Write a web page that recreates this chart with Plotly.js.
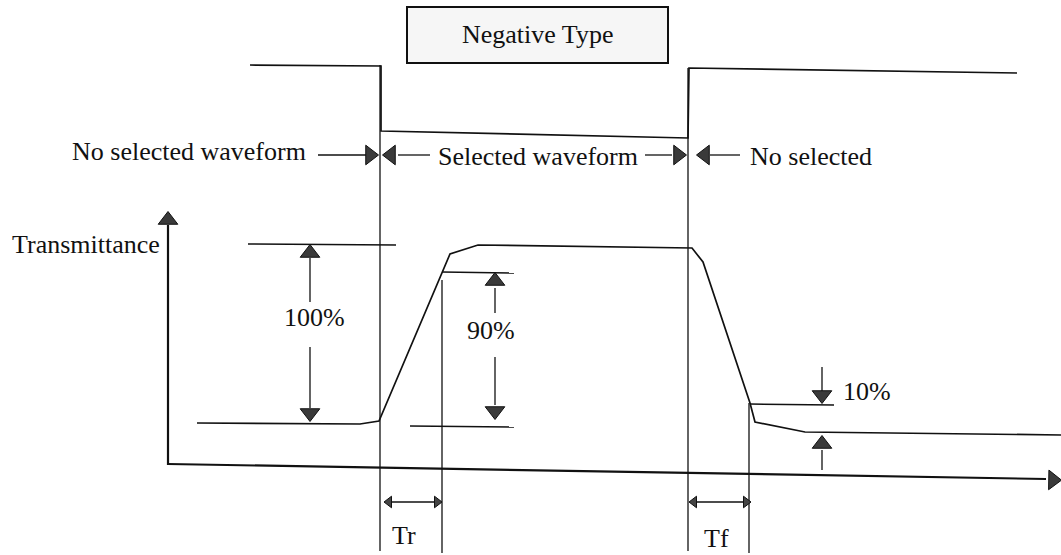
<!DOCTYPE html>
<html>
<head>
<meta charset="utf-8">
<script src="https://cdn.plot.ly/plotly-3.0.1.min.js"></script>
<style>html,body{margin:0;padding:0;background:#fff;}#chart{width:1061px;height:555px;}</style>
</head>
<body>
<div id="chart"></div>
<script>
// Drive waveform (top) and optical response (bottom), in diagram units
const driveX = [250, 381, 381, 688, 689, 1017];
const driveY = [65, 66, 131, 138, 68, 73];
const responseX = [197, 360, 379, 450, 478, 692, 703, 750, 755, 805, 1061];
const responseY = [423, 424, 421, 254, 245, 248, 262, 403, 422, 432, 435];

// Timing marker lines (vertical)
const markerX = [380, 380, null, 688, 688, null, 442, 442, null, 749, 749];
const markerY = [65, 551, null, 68, 551, null, 280, 553, null, 403, 553];

// Level reference lines (horizontal)
const refX = [248, 396, null, 442, 514, null, 410, 514, null, 750, 834];
const refY = [244, 245, null, 272, 273, null, 426, 427, null, 404, 405];

// Axes
const axisX = [168, 168, null, 168, 1046];
const axisY = [225, 465, null, 464, 479];

// Dimension arrow shafts
const shaftX = [310, 310, null, 310, 310, null, 495, 495, null, 495, 495, null, 822, 822, null, 822, 822,
                null, 318, 366, null, 398, 430, null, 645, 672, null, 710, 740, null, 386, 440, null, 691, 749];
const shaftY = [258, 302, null, 347, 408, null, 288, 313, null, 357, 405, null, 367, 392, null, 450, 470,
                null, 155, 155, null, 155, 155, null, 155, 155, null, 155, 155, null, 502, 502, null, 502, 502];

// Arrow heads
const headX = [310, 310, 495, 495, 822, 822, 168, 1053, 370, 391, 678, 705];
const headY = [253, 413, 281, 411, 395, 444, 220, 480, 155, 155, 155, 155];
const headSym = ['triangle-up','triangle-down','triangle-up','triangle-down','triangle-down','triangle-up',
                 'triangle-up','triangle-right','triangle-right','triangle-left','triangle-right','triangle-left'];
const headAngle = [0,0,0,0,0,0,0,1,0,0,0,0];
const smallHeadX = [389, 437, 694, 746];
const smallHeadY = [502, 502, 502, 502];
const smallHeadSym = ['triangle-left','triangle-right','triangle-left','triangle-right'];

// Labels
const labelText = ['No selected waveform', 'Selected waveform', 'No selected', 'Transmittance',
                   '100%', '90%', '10%', 'Tr', 'Tf'];
const labelX = [308, 538, 748, 10, 314, 491, 841, 404, 716];
const labelY = [151, 156, 156, 244, 317, 330, 391, 535, 538];
const labelAnchor = ['right','center','left','left','center','center','left','center','center'];
const titleText = 'Negative Type';

const ink = '#111';
const traces = [
  {x: driveX, y: driveY, mode: 'lines', line: {color: ink, width: 1.7}},
  {x: responseX, y: responseY, mode: 'lines', line: {color: ink, width: 1.7}},
  {x: markerX, y: markerY, mode: 'lines', line: {color: ink, width: 1.3}},
  {x: refX, y: refY, mode: 'lines', line: {color: ink, width: 1.5}},
  {x: axisX, y: axisY, mode: 'lines', line: {color: ink, width: 2.2}},
  {x: shaftX, y: shaftY, mode: 'lines', line: {color: ink, width: 1.3}},
  {x: headX, y: headY, mode: 'markers',
   marker: {symbol: headSym, angle: headAngle, size: 17, color: '#3a3a3a', line: {color: ink, width: 1}}},
  {x: smallHeadX, y: smallHeadY, mode: 'markers',
   marker: {symbol: smallHeadSym, size: 10, color: '#444', line: {color: ink, width: 1}}}
];

const font = {family: '"Liberation Serif", "Times New Roman", serif', size: 26, color: ink};
const annotations = labelText.map((t, i) => ({
  x: labelX[i], y: labelY[i], xref: 'x', yref: 'y', text: t, showarrow: false,
  xanchor: labelAnchor[i], yanchor: 'middle', font: font
}));
annotations.push({x: 537, y: 34, xref: 'x', yref: 'y', text: titleText, showarrow: false,
  xanchor: 'center', yanchor: 'middle', font: font});

const layout = {
  width: 1061, height: 555,
  margin: {l: 0, r: 0, t: 0, b: 0},
  paper_bgcolor: '#fff', plot_bgcolor: '#fff',
  showlegend: false,
  xaxis: {range: [0, 1061], visible: false, fixedrange: true},
  yaxis: {range: [555, 0], visible: false, fixedrange: true},
  shapes: [{type: 'rect', xref: 'x', yref: 'y', x0: 407, x1: 668, y0: 7, y1: 63,
            line: {color: ink, width: 2}, fillcolor: '#f6f6f6', layer: 'below'}],
  annotations: annotations
};

Plotly.newPlot('chart', traces, layout, {displayModeBar: false, staticPlot: true});
</script>
</body>
</html>
